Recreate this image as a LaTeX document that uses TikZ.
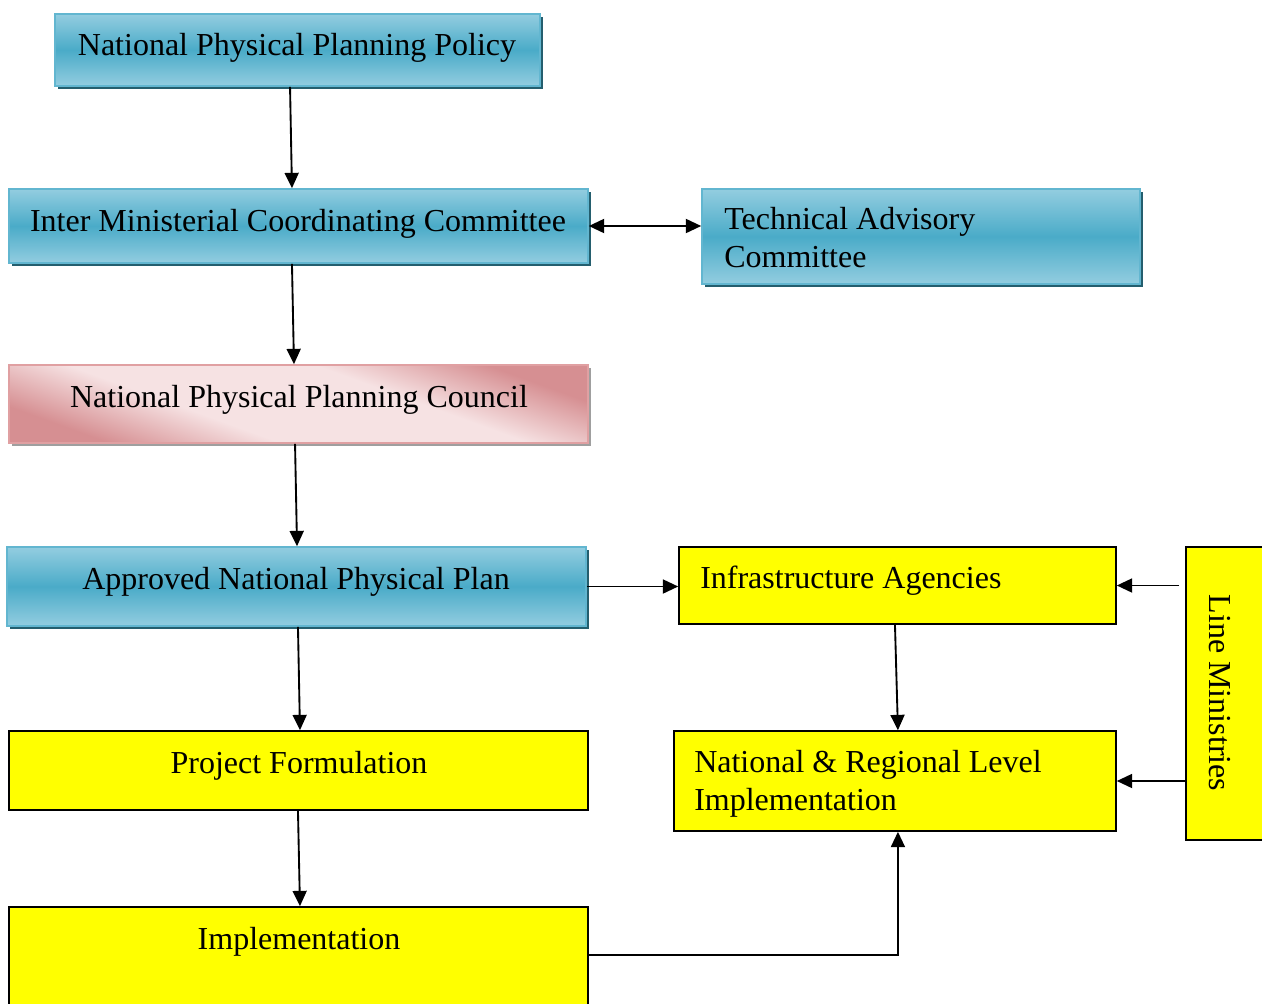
\documentclass[tikz,border=0pt]{standalone}
\usepackage{fontspec}
\setmainfont{Liberation Serif}
\usetikzlibrary{arrows.meta,shadows,fit}
\definecolor{bluemid}{HTML}{4AABC8}
\definecolor{bluelight}{HTML}{93CDE0}
\definecolor{blueedge}{HTML}{62B6D0}
\definecolor{blueshadow}{HTML}{245E6E}
\definecolor{pinkdark}{HTML}{D68F92}
\definecolor{pinklight}{HTML}{F6E2E3}
\definecolor{pinkedge}{HTML}{E0A0A2}
\definecolor{yel}{HTML}{FFFF00}
\pgfdeclareverticalshading{pinkshade}{100bp}{color(0bp)=(pinkdark); color(26bp)=(pinkdark); color(40bp)=(pinklight); color(60bp)=(pinklight); color(74bp)=(pinkdark); color(100bp)=(pinkdark)}
\begin{document}
\begin{tikzpicture}[x=0.75pt,y=-0.75pt,
  font=\fontsize{24}{28.5}\selectfont,
  bluebox/.style={draw=blueedge, line width=1.2pt, top color=bluelight, bottom color=bluelight, middle color=bluemid, inner sep=0pt,
    drop shadow={shadow xshift=2.4pt, shadow yshift=-2.4pt, fill=blueshadow, opacity=1}},
  pinkbox/.style={draw=pinkedge, line width=1.2pt, shading=pinkshade, shading angle=-20, inner sep=0pt,
    drop shadow={shadow xshift=2.4pt, shadow yshift=-2.4pt, fill=gray!75, opacity=1}},
  yellowbox/.style={draw=black, line width=1.2pt, fill=yel, inner sep=0pt},
  txt/.style={inner sep=0pt, anchor=base},
  ltxt/.style={inner sep=0pt, anchor=north west, align=left},
  arr/.style={-{Triangle[length=11.5pt,width=10.5pt]}, line width=1.4pt},
  dblarr/.style={{Triangle[length=11.5pt,width=10.5pt]}-{Triangle[length=11.5pt,width=10.5pt]}, line width=1.4pt}
]
\useasboundingbox (0,0) rectangle (1262,1003);

% boxes
\node[bluebox, fit={(55,14) (540,86)}] (nppp) {};
\node[txt] (nppptext) at (297,55) {National Physical Planning Policy};

\node[bluebox, fit={(9,189) (588,263)}] (imcc) {};
\node[txt] (imcctext) at (298,231) {Inter Ministerial Coordinating Committee};

\node[bluebox, fit={(702,189) (1140,284)}] (tac) {};
\node[ltxt] (tactext) at (724,207) {Technical Advisory\\Committee};

\node[pinkbox, fit={(9,365) (588,443)}] (nppc) {};
\node[txt] (nppctext) at (299,407) {National Physical Planning Council};

\node[bluebox, fit={(7,547) (586,626)}] (anpp) {};
\node[txt] (anpptext) at (296,589) {Approved National Physical Plan};

\node[yellowbox, fit={(679,547) (1116,624)}] (ia) {};
\node[ltxt] (iatext) at (700,566) {Infrastructure Agencies};

\node[yellowbox, fit={(674,731) (1116,831)}] (nrli) {};
\node[ltxt] (nrlitext) at (694,750) {National \& Regional Level\\Implementation};

\node[yellowbox, fit={(9,731) (588,810)}] (pf) {};
\node[txt] (pftext) at (299,773) {Project Formulation};

\node[yellowbox, fit={(9,907) (588,1006)}] (impl) {};
\node[txt] (impltext) at (299,949) {Implementation};

\node[yellowbox, fit={(1186,547) (1272,840)}] (lm) {};
\node[inner sep=0pt, rotate=-90] (lmtext) at (1220,693) {Line Ministries};

% connectors
\draw[arr] ([xshift=-5.6pt]nppp.south) -- ([xshift=-4.9pt]imcc.north);
\draw[arr] ([xshift=-4.9pt]imcc.south) -- ([xshift=-3.4pt]nppc.north);
\draw[arr] ([xshift=-2.6pt]nppc.south) -- ([xshift=0.4pt]anpp.north);
\draw[arr] ([xshift=1.1pt]anpp.south) -- ([xshift=1.1pt]pf.north);
\draw[arr] ([xshift=-0.4pt]pf.south) -- ([xshift=1.1pt]impl.north);
\draw[dblarr] (imcc.east) -- (imcc.east -| tac.west);
\draw[arr] (anpp.east) -- (anpp.east -| ia.west);
\draw[arr] ([xshift=-1.9pt]ia.south) -- ([xshift=2.2pt]nrli.north);
\draw[arr] ([xshift=-4.5pt]lm.west |- ia.east) -- (ia.east);
\draw[arr] (lm.west |- nrli.east) -- (nrli.east);
\draw[arr] ([yshift=1pt]impl.east) -| ([xshift=2.2pt]nrli.south);
\end{tikzpicture}
\end{document}
